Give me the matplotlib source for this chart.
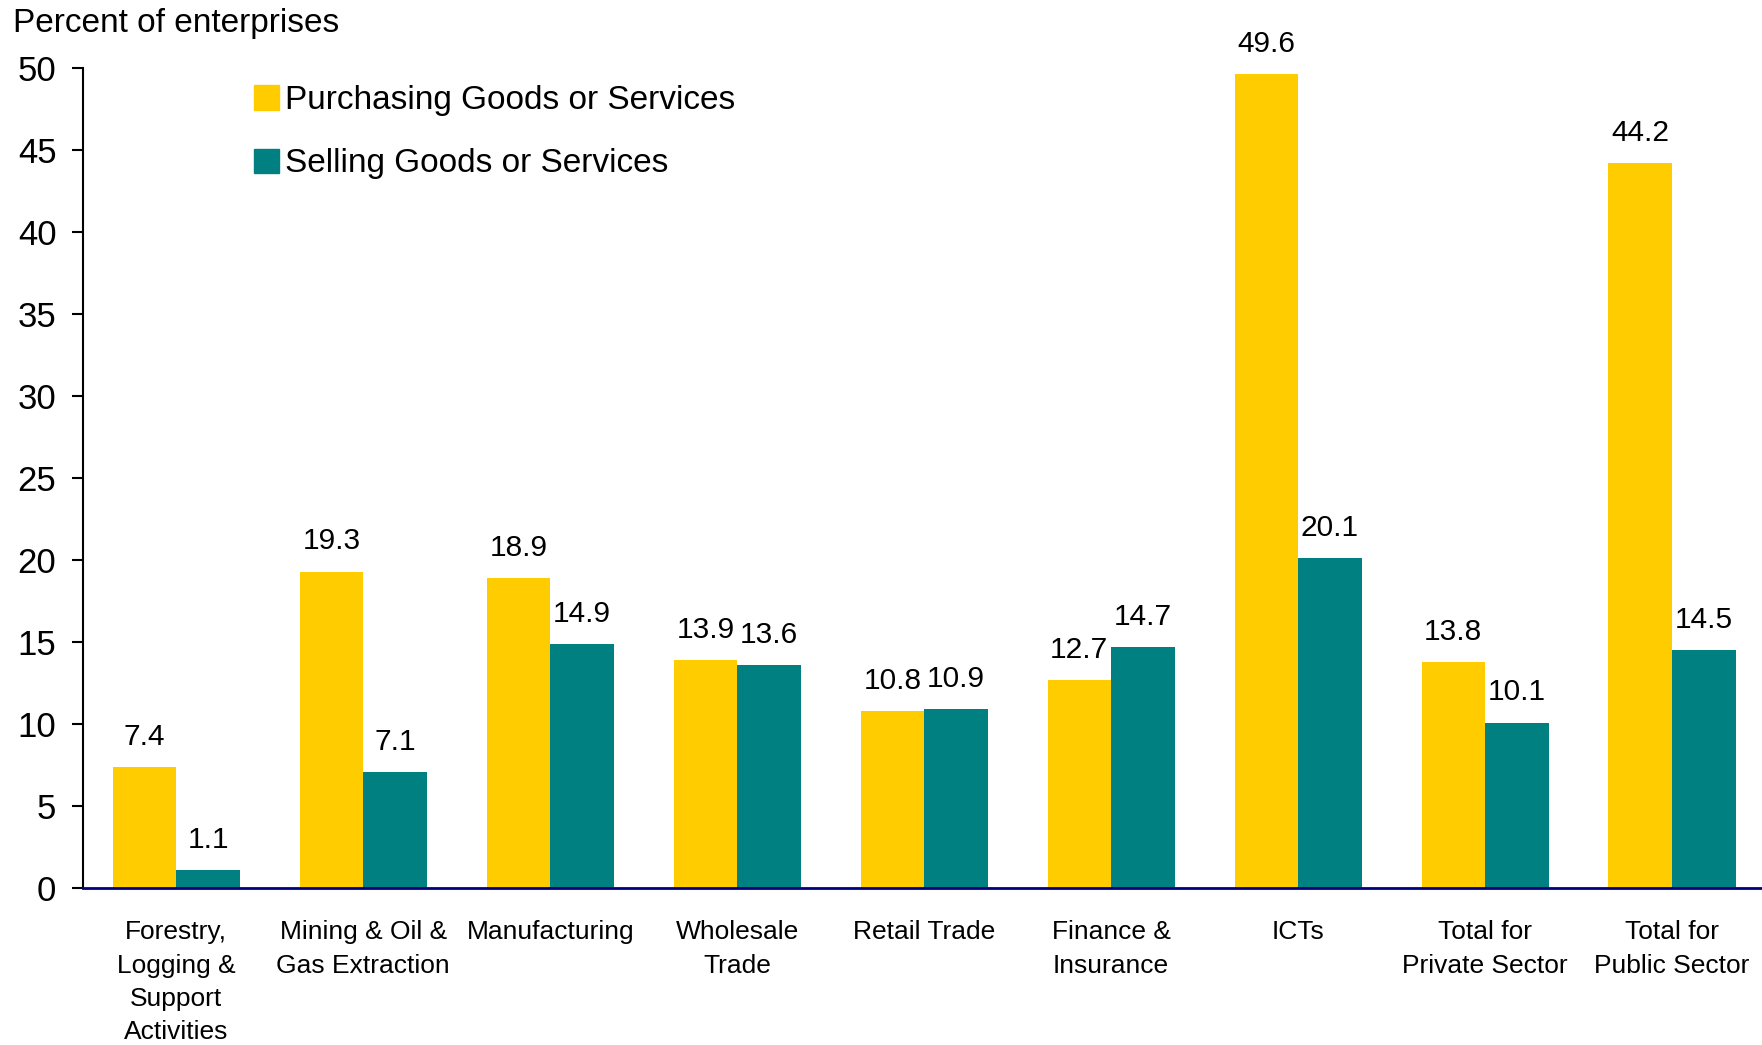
import numpy as np
from matplotlib import pyplot as plt
from matplotlib.patches import Patch

plt.rcParams['font.family'] = ['Liberation Sans', 'DejaVu Sans']

categories = ["Forestry,\nLogging &\nSupport\nActivities", "Mining & Oil &\nGas Extraction",
              "Manufacturing", "Wholesale\nTrade", "Retail Trade", "Finance &\nInsurance",
              "ICTs", "Total for\nPrivate Sector", "Total for\nPublic Sector"]
purchasing = [7.4, 19.3, 18.9, 13.9, 10.8, 12.7, 49.6, 13.8, 44.2]
selling = [1.1, 7.1, 14.9, 13.6, 10.9, 14.7, 20.1, 10.1, 14.5]
yticks = [0, 5, 10, 15, 20, 25, 30, 35, 40, 45, 50]

yellow = "#FFCC00"
teal = "#008080"

fig = plt.figure(figsize=(17.62, 10.45), dpi=100)
ax = fig.add_axes([0.047, 0.150, 0.955, 0.785])

x = np.arange(len(categories))
w = 0.34
b1 = ax.bar(x - w/2, purchasing, w, color=yellow)
b2 = ax.bar(x + w/2, selling, w, color=teal)

# value labels above bars
for bars, vals in ((b1, purchasing), (b2, selling)):
    for r, v in zip(bars, vals):
        ax.annotate(f"{v:.1f}", (r.get_x() + r.get_width()/2, v), xytext=(0, 16),
                    textcoords="offset points", ha="center", va="baseline", fontsize=21.5)

ax.set_xlim(-0.5, len(categories) - 0.5)
ax.set_ylim(0, 50)
ax.set_yticks(yticks)
ax.set_xticks(x)
ax.set_xticklabels(categories, fontsize=19, linespacing=1.49)
ax.tick_params(axis="x", length=0, pad=23)
ax.tick_params(axis="y", length=8, width=1.5, labelsize=25, pad=11)

for s in ("top", "right"):
    ax.spines[s].set_visible(False)
ax.spines["left"].set_linewidth(1.5)
ax.spines["bottom"].set_color("#000080")
ax.spines["bottom"].set_linewidth(2)

fig.text(13/1762, 1 - 32/1045, "Percent of enterprises", fontsize=24, va="baseline")

handles = [Patch(color=yellow, label="Purchasing Goods or Services"),
           Patch(color=teal, label="Selling Goods or Services")]
fig.legend(handles=handles, loc="upper left", bbox_to_anchor=(254/1762, 1 - 85/1045),
           frameon=False, fontsize=24, handlelength=0.75, handleheight=0.75,
           handletextpad=0.17, labelspacing=0.97, borderpad=0, borderaxespad=0)

plt.savefig("out.png", dpi=100)
